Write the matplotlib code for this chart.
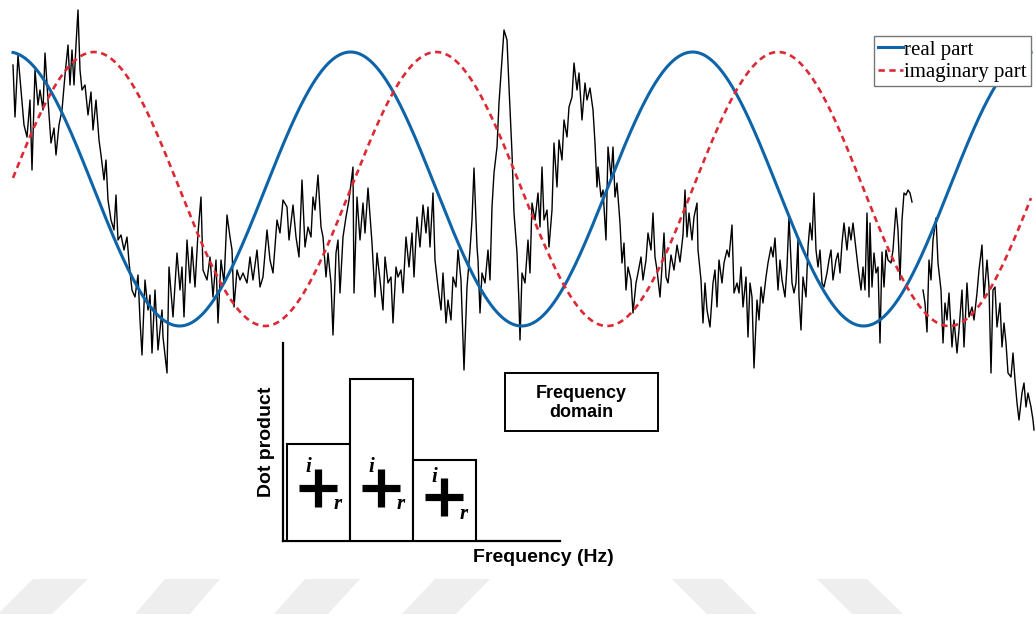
#!/usr/bin/env python3
"""Time-domain signal against a complex sinusoid, with the dot-product spectrum inset -> out.png."""

import matplotlib

matplotlib.use("Agg")
import matplotlib.pyplot as plt  # noqa: E402
import numpy as np  # noqa: E402
from matplotlib.patches import Polygon, Rectangle  # noqa: E402

W, H = 1036, 617
BLUE = "#0e64a8"
RED = "#dc2a35"

# recorded signal (time in ms, amplitude in uV); two pieces with a short gap
t_a = [0, 2, 5, 8, 11, 14, 17, 19, 22, 25, 27, 30, 32, 35, 38, 41, 43, 46, 49, 52,
       55, 57, 59, 61, 63, 65, 67, 69, 72, 75, 78, 80, 83, 86, 88, 91, 93, 95, 98, 101,
       103, 105, 108, 111, 114, 116, 119, 122, 125, 127, 129, 132, 135, 137, 139, 142, 145, 149, 150, 154,
       156, 160, 164, 167, 169, 171, 174, 177, 179, 182, 185, 188, 190, 194, 197, 200, 203, 205, 208, 211,
       214, 217, 219, 221, 224, 227, 230, 234, 237, 240, 244, 247, 250, 254, 257, 260, 264, 267, 270, 274,
       276, 280, 283, 286, 289, 292, 295, 298, 300, 302, 305, 308, 310, 313, 315, 318, 320, 323, 325, 327,
       330, 333, 336, 340, 341, 344, 347, 350, 352, 355, 359, 362, 364, 367, 370, 372, 375, 378, 380, 383,
       385, 388, 390, 393, 396, 399, 401, 404, 407, 410, 413, 415, 417, 420, 422, 425, 428, 430, 433, 435,
       438, 440, 443, 445, 448, 451, 454, 457, 459, 461, 464, 465, 467, 469, 472, 475, 477, 479, 481, 484,
       486, 489, 491, 494, 496, 499, 501, 504, 506, 507, 509, 512, 515, 517, 519, 522, 525, 527, 529, 531,
       534, 536, 539, 541, 544, 546, 549, 551, 554, 556, 559, 561, 564, 566, 569, 572, 574, 577, 580, 582,
       584, 585, 588, 590, 593, 595, 598, 600, 602, 604, 607, 609, 611, 613, 615, 618, 620, 623, 625, 628,
       630, 633, 635, 638, 640, 642, 644, 647, 649, 651, 653, 655, 658, 661, 664, 667, 670, 672, 674, 676,
       679, 681, 684, 685, 688, 690, 692, 694, 697, 700, 702, 704, 706, 709, 711, 714, 716, 719, 721, 724,
       726, 728, 730, 733, 735, 737, 739, 741, 744, 746, 748, 750, 753, 755, 758, 760, 762, 765, 767, 769,
       772, 774, 776, 779, 781, 783, 785, 786, 788, 790, 793, 795, 797, 799, 801, 803, 805, 807, 809, 811,
       814, 816, 818, 820, 823, 825, 827, 829, 831, 834, 836, 838, 840, 843, 845, 848, 850, 852, 854, 856,
       857, 859, 861, 863, 865, 867, 869, 871, 873, 875, 878, 880, 883, 885, 887, 889, 891, 893, 895, 897,
       899]
v_a = [124, 72, 134, 99, 64, 52, 89, 19, 119, 84, 99, 79, 136, 89, 46, 61, 34, 64, 79, 114,
       144, 104, 139, 104, 144, 179, 119, 99, 104, 74, 97, 59, 89, 49, 34, 9, 29, -11, -31, -41,
       -6, -51, -46, -61, -48, -73, -101, -108, -86, -131, -166, -91, -121, -106, -164, -101, -161, -121, -148, -184,
       -78, -128, -64, -101, -78, -128, -51, -94, -58, -98, -44, -8, -81, -91, -68, -108, -71, -134, -71, -94,
       -26, -48, -61, -118, -81, -91, -84, -94, -68, -91, -61, -98, -88, -41, -71, -84, -31, -44, -11, -18,
       -51, -16, -48, -68, 9, -58, -38, -48, -8, -21, 14, -38, -48, -88, -64, -94, -146, -64, -51, -104,
       -48, -28, -11, 22, -104, -8, -51, -14, -44, 1, -54, -108, -64, -91, -121, -68, -94, -88, -134, -78,
       -88, -81, -104, -48, -78, -44, -88, -28, -58, -16, -44, -18, -58, -4, -71, -98, -121, -84, -134, -111,
       -131, -88, -98, -61, -91, -181, -98, -61, -31, 21, -58, -71, -124, -84, -94, -61, -91, -18, 16, 42,
       86, 129, 159, 149, 102, 36, -24, -64, -114, -151, -84, -94, -51, -84, -14, -31, -4, -38, 22, -31,
       -21, -58, -21, 46, 2, 49, 29, 69, 52, 82, 92, 126, 99, 116, 69, 106, 89, 101, 79, 46,
       2, 22, -8, -1, -51, 42, 12, 42, -8, 6, -34, -74, -54, -101, -78, -91, -124, -94, -84, -68,
       -91, -71, -44, -61, -24, -68, -81, -108, -78, -44, -88, -94, -66, -81, -56, -73, -46, -1, -48, -24,
       -51, -28, -14, -61, -91, -134, -94, -121, -138, -94, -81, -118, -71, -94, -74, -61, -68, -36, -104, -94,
       -104, -78, -118, -88, -148, -94, -108, -179, -111, -131, -98, -114, -88, -74, -58, -68, -49, -101, -71, -91,
       -108, -78, -28, -94, -104, -94, -51, -108, -141, -88, -108, -58, -34, -51, -4, -61, -78, -61, -94, -98,
       -84, -71, -61, -91, -71, -64, -84, -54, -34, -61, -38, -51, -34, -61, -78, -101, -78, -101, -24, -108,
       -34, -98, -64, -84, -78, -154, -63, -98, -61, -71, -74, -61, -19, -41, -91, -31, -4, -6, -1, -4,
       -13]
t_b = [910, 912, 914, 916, 918, 920, 923, 925, 928, 930, 932, 934, 936, 939, 941, 944, 946, 949, 951, 954,
       956, 959, 961, 964, 966, 969, 971, 974, 976, 978, 980, 982, 984, 987, 989, 991, 993, 995, 998, 1000,
       1002, 1004, 1006, 1009, 1011, 1013, 1015, 1018, 1020, 1021]
v_b = [-101, -114, -143, -71, -91, -51, -29, -74, -101, -154, -114, -131, -104, -158, -131, -164, -141, -101, -158, -94,
       -128, -118, -131, -104, -81, -56, -108, -71, -98, -184, -101, -98, -138, -114, -158, -134, -154, -184, -188, -164,
       -191, -214, -231, -204, -194, -218, -204, -218, -231, -241]

# complex sinusoid e^{-i 2 pi f t}: amplitude (uV), period (ms), time of first real-part peak (ms)
SIN_AMP = 137
SIN_PERIOD = 342
SIN_PEAK = -4.4
SIN_END = 1018

# frequency-domain inset
freq_bins = [1, 2, 3]
dot_product = [0.49, 0.82, 0.41]


def px(x, y):
    """pixel position -> figure fraction (y measured from the top)."""
    return x / W, 1 - y / H


def main():
    fig = plt.figure(figsize=(W / 100, H / 100), dpi=100)
    fig.patch.set_facecolor("white")

    # faint diagonal stripes along the bottom edge
    stripes = [
        [(-2, 614), (52, 614), (88, 579), (33, 579)],
        [(135, 614), (190, 614), (220, 579), (165, 579)],
        [(274, 614), (328, 614), (360, 579), (305, 579)],
        [(402, 614), (456, 614), (490, 579), (435, 579)],
        [(707, 614), (757, 614), (722, 579), (672, 579)],
        [(852, 614), (903, 614), (867, 579), (817, 579)],
    ]
    for s in stripes:
        fig.patches.append(Polygon([px(*p) for p in s], closed=True, transform=fig.transFigure,
                                   facecolor="#eeeeee", edgecolor="none", zorder=0))

    ax = fig.add_axes([0, 0, 1, 1])
    ax.set_xlim(-13, W - 13)
    ax.set_ylim(189 - H, 189)
    ax.axis("off")

    ax.plot(t_a, v_a, color="black", lw=1.0, zorder=2)
    ax.plot(t_b, v_b, color="black", lw=1.0, zorder=2)

    ts = np.linspace(0, SIN_END, 1200)
    phase = 2 * np.pi * (ts - SIN_PEAK) / SIN_PERIOD
    ax.plot(ts, SIN_AMP * np.cos(phase), color=BLUE, lw=2.2, label="real part", zorder=3)
    ax.plot(ts, SIN_AMP * np.sin(phase), color=RED, lw=1.9, dashes=(2.4, 1.7),
            label="imaginary part", zorder=3)

    leg = ax.legend(loc="upper right", bbox_to_anchor=px(1031, 36), bbox_transform=fig.transFigure,
                    prop={"family": "Liberation Serif", "size": 15}, frameon=True, fancybox=False,
                    framealpha=1, edgecolor="#777777", borderpad=0.2, borderaxespad=0,
                    labelspacing=0.12, handlelength=1.2, handletextpad=0.05)
    leg.get_frame().set_linewidth(1.0)
    leg.set_zorder(5)

    # inset: dot product per frequency bin
    x0, y0 = px(283, 541)
    x1, y1 = px(560, 343)
    ins = fig.add_axes([x0, y0, x1 - x0, y1 - y0])
    ins.patch.set_alpha(0)
    ins.set_xlim(0.44, 4.84)
    ins.set_ylim(0, 1)
    ins.bar(freq_bins, dot_product, width=1.0, color="white", edgecolor="black", lw=1.5, zorder=4)
    for side in ("top", "right"):
        ins.spines[side].set_visible(False)
    for side in ("left", "bottom"):
        ins.spines[side].set_linewidth(1.6)
    ins.set_xticks([])
    ins.set_yticks([])
    ins.set_ylabel("Dot product", family="Liberation Sans", weight="bold", size=14, labelpad=6)
    ins.set_xlabel("Frequency (Hz)", family="Liberation Sans", weight="bold", size=14)
    ins.xaxis.label.set_va("top")
    ins.xaxis.label.set_ha("right")
    ins.xaxis.set_label_coords(px(614, 0)[0], px(0, 549)[1], transform=fig.transFigure)

    # real/imaginary pair marker in each bin: a heavy cross with i above-left, r below-right
    glyph_y = [0.27, 0.27, 0.22]
    for xb, gy in zip(freq_bins, glyph_y):
        ins.plot(xb, gy, marker="+", ms=27, mew=5.2, color="black", zorder=6)
        ins.annotate("i", (xb, gy), xytext=(-7, 15), textcoords="offset points", ha="center",
                     va="center", family="Liberation Serif", style="italic", weight="bold",
                     size=15, zorder=6)
        ins.annotate("r", (xb, gy), xytext=(14, -12), textcoords="offset points", ha="center",
                     va="center", family="Liberation Serif", style="italic", weight="bold",
                     size=15, zorder=6)

    # "Frequency domain" caption box
    bx, by = px(505, 431)
    bx2, by2 = px(658, 373)
    fig.patches.append(Rectangle((bx, by), bx2 - bx, by2 - by, transform=fig.transFigure,
                                 facecolor="white", edgecolor="black", lw=1.4, zorder=6))
    cx, cy = px(581, 403)
    fig.text(cx, cy, "Frequency\ndomain", ha="center", va="center", family="Liberation Sans",
             weight="bold", size=13, linespacing=1.2, zorder=7)

    fig.savefig("out.png", dpi=100)
    plt.close(fig)


if __name__ == "__main__":
    main()
